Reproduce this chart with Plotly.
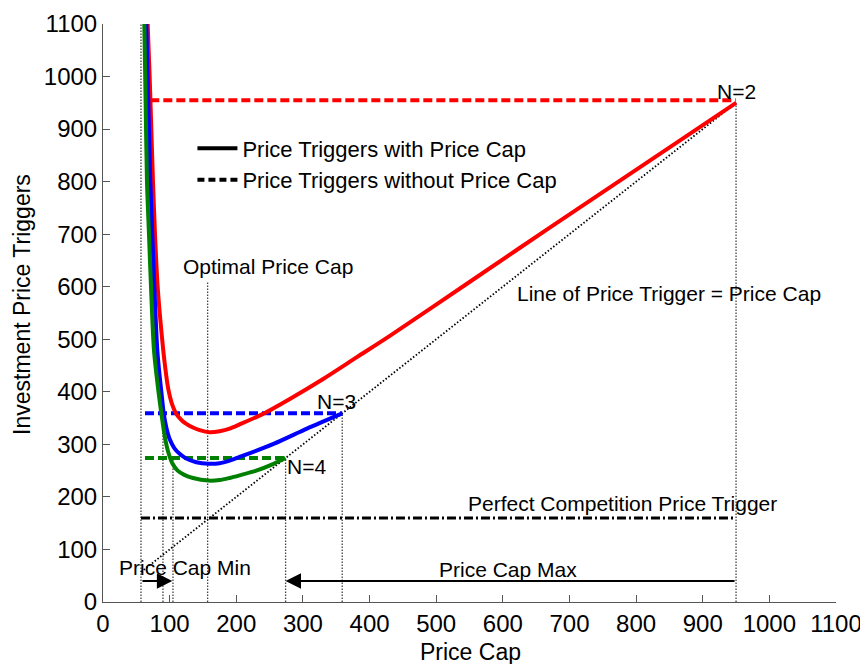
import plotly.graph_objects as go

# ---- data ----
red_x = [67, 70, 72.5, 75, 78, 82, 88, 93, 98, 104, 110, 118, 125, 135, 145, 160, 175, 190, 205, 240, 281, 331, 381, 431, 550, 671, 950]
red_y = [1100, 1000, 900, 800, 700, 600, 510, 450, 405, 375, 358, 346, 339, 332, 327, 323, 325, 330, 338, 358, 387, 425, 466, 507, 609, 713, 950]

blue_x = [65, 68, 71, 74, 77, 81.5, 85, 88, 91, 95, 100, 107, 115, 125, 140, 158, 175, 190, 205, 256, 306, 359]
blue_y = [1100, 950, 800, 700, 600, 479, 430, 395, 360, 332, 310, 293, 282, 273, 266, 263, 264, 269, 276, 301, 330, 359]

green_x = [62, 64, 66, 69, 72, 76.5, 83, 88, 93, 98, 104, 112, 122, 135, 158, 175, 190, 205, 230, 256, 274]
green_y = [1100, 950, 800, 700, 600, 479, 403, 355, 313, 285, 264, 250, 242, 236, 231, 232, 236, 241, 250, 263, 274]

# horizontal "without price cap" triggers: level, x start, x end
nocap_levels = [955, 359, 274]
nocap_start = [71, 63, 63]
nocap_end = [950, 359, 274]
series_colors = ["#FF0000", "#0000FF", "#008000"]

# vertical dotted reference lines: x position and top value
vline_x = [57, 90, 105, 157, 274, 359, 950]
vline_top = [1100, 359, 274, 610, 274, 359, 950]

diag_x = [57, 950]
diag_y = [57, 950]

perfect_level = 160
perfect_x = [57, 950]

arrow_level = 40
min_arrow = (57, 104)   # tail -> head
max_arrow = (950, 274)  # tail -> head

x_ticks = list(range(0, 1101, 100))
y_ticks = list(range(0, 1101, 100))

labels = [
    ("N=2", 951, 971),
    ("N=3", 350, 382),
    ("N=4", 305, 257),
    ("Optimal Price Cap", 248, 638),
    ("Line of Price Trigger = Price Cap", 850, 588),
    ("Perfect Competition Price Trigger", 780, 187),
    ("Price Cap Max", 608, 62),
    ("Price Cap Min", 123, 66),
]

FONT = "Liberation Sans, Arial, sans-serif"

fig = go.Figure()

# vertical dotted lines
for vx, vt in zip(vline_x, vline_top):
    fig.add_trace(go.Scatter(x=[vx, vx], y=[0, vt], mode="lines",
                             line=dict(color="#444444", width=1.3, dash="1.5px,1.5px"),
                             showlegend=False, hoverinfo="skip"))

# diagonal
fig.add_trace(go.Scatter(x=diag_x, y=diag_y, mode="lines",
                         line=dict(color="black", width=1.8, dash="1.5px,2px"),
                         showlegend=False, hoverinfo="skip"))

# perfect competition
fig.add_trace(go.Scatter(x=perfect_x, y=[perfect_level, perfect_level], mode="lines",
                         line=dict(color="black", width=3, dash="9px,3px,2px,3px"),
                         showlegend=False, hoverinfo="skip"))

# without-cap dashed lines
for lvl, xs, xe, c in zip(nocap_levels, nocap_start, nocap_end, series_colors):
    fig.add_trace(go.Scatter(x=[xs, xe], y=[lvl, lvl], mode="lines",
                             line=dict(color=c, width=4, dash="9px,4px"),
                             showlegend=False, hoverinfo="skip"))

# curves with cap
for xs, ys, c in [(red_x, red_y, series_colors[0]), (blue_x, blue_y, series_colors[1]),
                  (green_x, green_y, series_colors[2])]:
    fig.add_trace(go.Scatter(x=xs, y=ys, mode="lines", line=dict(color=c, width=4),
                             line_shape="spline", line_smoothing=0.8,
                             showlegend=False, hoverinfo="skip"))

# legend dummies
fig.add_trace(go.Scatter(x=[None], y=[None], mode="lines", name="Price Triggers with Price Cap",
                         line=dict(color="black", width=4)))
fig.add_trace(go.Scatter(x=[None], y=[None], mode="lines", name="Price Triggers without Price Cap",
                         line=dict(color="black", width=4, dash="7px,4px")))

anns = []
for t, x, y in labels:
    anns.append(dict(x=x, y=y, text=t, showarrow=False, xref="x", yref="y",
                     xanchor="center", yanchor="middle",
                     font=dict(family=FONT, size=21, color="black")))
for tail, head in [min_arrow, max_arrow]:
    anns.append(dict(x=head, y=arrow_level, ax=tail, ay=arrow_level, axref="x", ayref="y",
                     xref="x", yref="y", text="", showarrow=True, arrowhead=2,
                     arrowsize=1.4, arrowwidth=2.2, arrowcolor="black"))
# axis titles
anns.append(dict(x=0.5007, y=-0.0865, xref="paper", yref="paper", text="Price Cap",
                 xanchor="center", yanchor="middle",
                 showarrow=False, font=dict(family=FONT, size=23, color="black")))
anns.append(dict(x=-0.1105, y=0.514, xref="paper", yref="paper", text="Investment Price Triggers",
                 xanchor="center", yanchor="middle",
                 textangle=-90, showarrow=False, font=dict(family=FONT, size=23, color="black")))

# page body has an 8px margin: figure is shifted, so size/margins account for it
fig.update_layout(
    width=860, height=656,
    margin=dict(l=95, r=32, t=16, b=62, autoexpand=False),
    paper_bgcolor="white", plot_bgcolor="white",
    font=dict(family=FONT, color="black"),
    annotations=anns,
    legend=dict(x=0.122, y=0.821, xanchor="left", yanchor="top",
                bgcolor="rgba(0,0,0,0)", font=dict(family=FONT, size=22),
                tracegroupgap=0, itemwidth=40),
    xaxis=dict(range=[0, 1100], tickvals=x_ticks, ticks="inside", ticklen=7,
               tickcolor="#555555", showline=True, linecolor="#555555", linewidth=1,
               showgrid=False, zeroline=False, tickfont=dict(size=24, family=FONT),
               automargin=False),
    yaxis=dict(range=[0, 1100], tickvals=y_ticks, ticks="inside", ticklen=7,
               tickcolor="#555555", showline=True, linecolor="#555555", linewidth=1,
               showgrid=False, zeroline=False, tickfont=dict(size=24, family=FONT),
               automargin=False),
)

fig.write_html("out.html")
